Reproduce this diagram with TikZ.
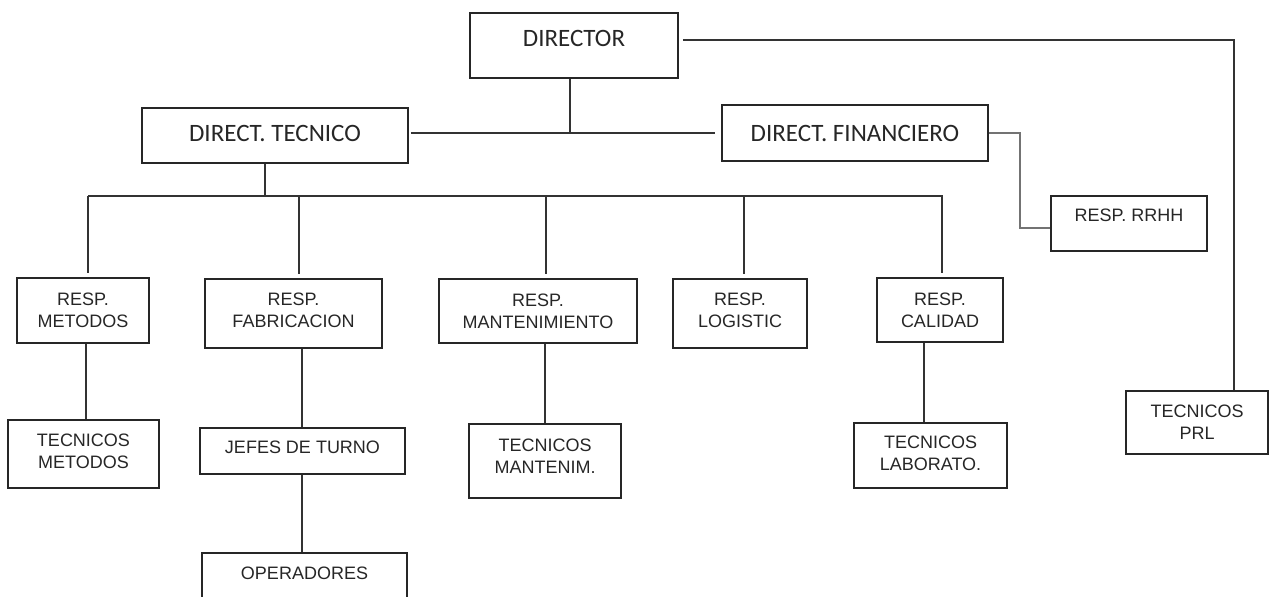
\documentclass[tikz,border=0pt]{standalone}
\usepackage{fontspec}
\setmainfont{Liberation Sans}
\newfontfamily\calibrifont{Carlito}
\usetikzlibrary{positioning}
\tikzset{
    box_style/.style={
        rectangle,            % 方框
        draw=black!85,        % 边框颜色
        line width=0.75pt,    % 边框粗细
        inner sep=0pt,
        align=center,         % 多行文字居中
        text=black!85,
        font=\fontsize{9pt}{11pt}\selectfont
    },
    top_style/.style={
        box_style,
        font=\calibrifont\fontsize{12.5pt}{15pt}\selectfont
    },
    box_size/.style 2 args={
        minimum width=#1*0.5pt,   % 宽 (像素)
        minimum height=#2*0.5pt   % 高 (像素)
    },
    line_style/.style={
        draw=black!80,
        line width=0.75pt
    },
    gray_line/.style={
        draw=black!55,
        line width=0.75pt
    }
}

\begin{document}
\begin{tikzpicture}[x=0.5pt, y=-0.5pt] % 坐标按像素计
    \useasboundingbox (0,0) rectangle (1269,596);

    % 1. 上层节点
    \node[top_style, box_size={208}{65}, text depth=7.5pt] (director) at (574,45.5) {DIRECTOR};
    \node[top_style, box_size={266}{55}, text depth=2.5pt] (tecnico) at (275,135.5) {DIRECT. TECNICO};
    \node[top_style, box_size={266}{56}] (financiero) at (855,133) {DIRECT. FINANCIERO};
    \node[box_style, box_size={156}{55}, text depth=8.5pt] (rrhh) at (1129,223.5) {RESP. RRHH};

    % 2. 各部门负责人
    \node[box_style, box_size={132}{65}] (metodos) at (83,310.5) {RESP.\\METODOS};
    \node[box_style, box_size={177}{69}, text depth=3.5pt] (fabricacion) at (293.5,313.5) {RESP.\\FABRICACION};
    \node[box_style, box_size={198}{64}] (mantenimiento) at (538,311) {RESP.\\MANTENIMIENTO};
    \node[box_style, box_size={134}{69}, text depth=3.5pt] (logistic) at (740,313.5) {RESP.\\LOGISTIC};
    \node[box_style, box_size={126}{64}] (calidad) at (940,310) {RESP.\\CALIDAD};

    % 3. 下层节点
    \node[box_style, box_size={151}{68}, text depth=3pt] (tec_metodos) at (83.5,454) {TECNICOS\\METODOS};
    \node[box_style, box_size={205}{46}, text depth=4pt] (jefes) at (302.5,451) {JEFES DE TURNO};
    \node[box_style, box_size={205}{46}, text depth=3pt] (operadores) at (304.5,576) {OPERADORES};
    \node[box_style, box_size={152}{74}, text depth=5pt] (tec_mant) at (545,461) {TECNICOS\\MANTENIM.};
    \node[box_style, box_size={153}{65}, text depth=2pt] (tec_lab) at (930.5,455.5) {TECNICOS\\LABORATO.};
    \node[box_style, box_size={142}{63}] (prl) at (1197,422.5) {TECNICOS\\PRL};

    % 4. 连线
    \coordinate (hub) at (570,133);
    \draw[line_style] (director.south -| hub) -- (hub);
    \draw[line_style] ([xshift=1pt]tecnico.east |- hub) -- ([xshift=-3pt]financiero.west |- hub);

    \coordinate (prl_corner) at (1234,40);
    \draw[line_style] ([xshift=2pt]director.east |- prl_corner) -- (prl_corner) -- (prl_corner |- prl.north);

    \draw[gray_line] (financiero.east) -- ++(31,0) |- ([yshift=-2.25pt]rrhh.west);

    \coordinate (bus_left) at (88,196);
    \coordinate (bus_right) at (943,196);
    \coordinate (tec_drop) at (265,196);
    \draw[line_style] (tec_drop |- tecnico.south) -- (tec_drop);
    \draw[line_style] (bus_left) -- (bus_right);
    \foreach \n/\x in {metodos/88, fabricacion/299, mantenimiento/546, logistic/744, calidad/942}{
        \coordinate (drop_\n) at (\x,196);
        \draw[line_style, shorten >=2pt] (drop_\n) -- (drop_\n |- \n.north);
    }

    \draw[line_style] ([xshift=1.5pt]metodos.south) -- ([xshift=1.5pt]metodos.south |- tec_metodos.north);
    \draw[line_style] ([xshift=-0.25pt]jefes.north |- fabricacion.south) -- ([xshift=-0.25pt]jefes.north);
    \draw[line_style] ([xshift=-0.25pt]jefes.south) -- ([xshift=-0.25pt]jefes.south |- operadores.north);
    \draw[line_style] (mantenimiento.south -| tec_mant.north) -- (tec_mant.north);
    \draw[line_style] ([xshift=-8pt]calidad.south) -- ([xshift=-8pt]calidad.south |- tec_lab.north);
\end{tikzpicture}
\end{document}
